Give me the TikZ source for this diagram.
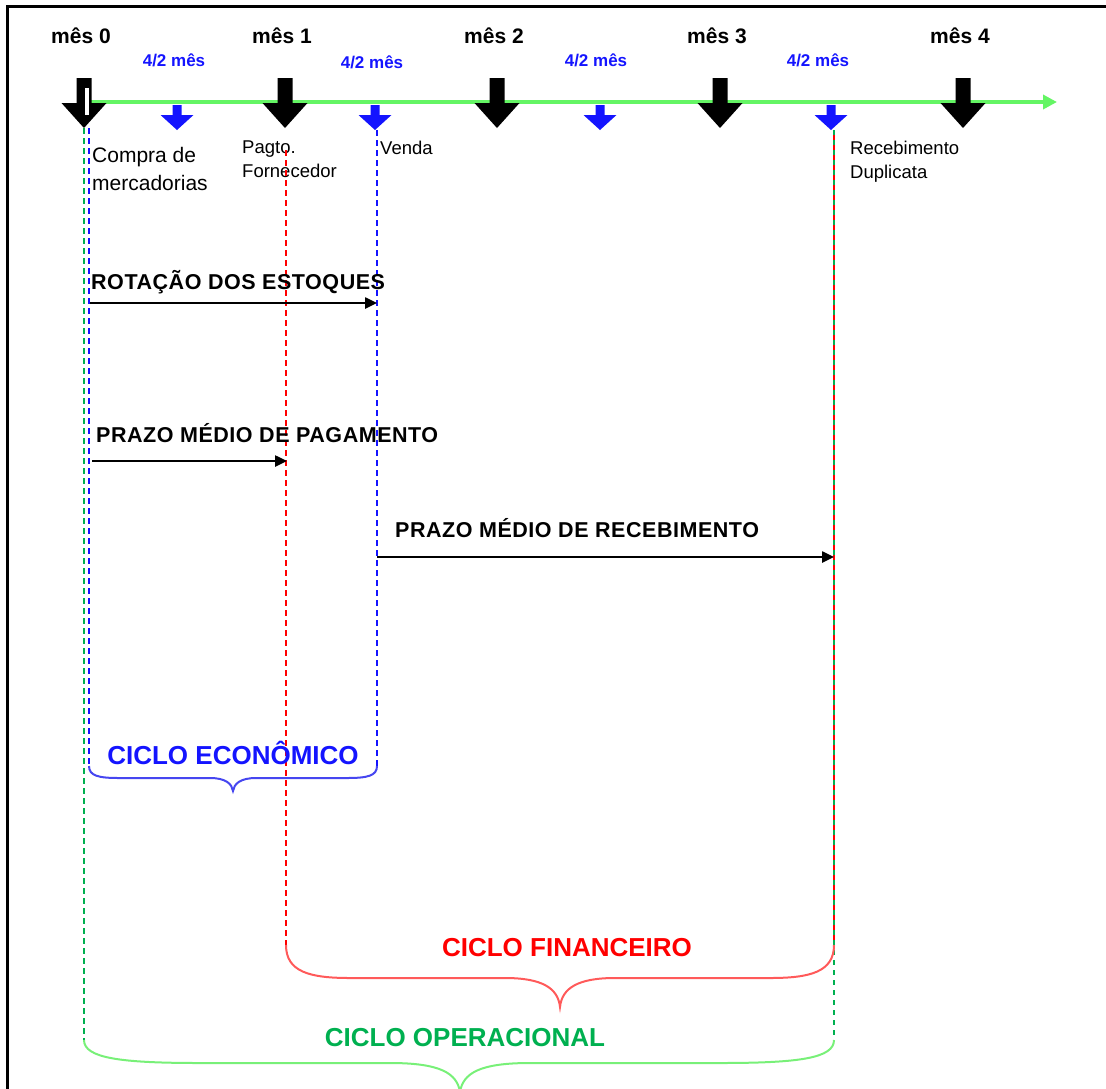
\documentclass[tikz,border=0pt]{standalone}
\usepackage{fontspec}
\setmainfont{Liberation Sans}
\usetikzlibrary{positioning, arrows.meta}
\definecolor{axisgreen}{RGB}{100, 245, 100}
\definecolor{opgreen}{RGB}{0, 176, 80}
\definecolor{ecoblue}{RGB}{20, 20, 255}
\definecolor{finred}{RGB}{255, 0, 0}
\definecolor{lightred}{RGB}{255, 90, 90}
\definecolor{lightgreen}{RGB}{120, 240, 120}
\definecolor{lightblue}{RGB}{70, 70, 240}

\begin{document}
\begin{tikzpicture}[
    x=1pt, y=-1pt,
    >={Triangle[length=12pt, width=11pt]},
    month/.style={font=\fontsize{21}{25}\selectfont\bfseries, inner sep=0pt},
    half/.style={font=\fontsize{17}{20}\selectfont\bfseries, text=ecoblue, inner sep=0pt},
    event/.style={font=\fontsize{21}{28}\selectfont, align=left, anchor=north west, inner sep=0pt},
    smallevent/.style={font=\fontsize{18.5}{24}\selectfont, align=left, anchor=north west, inner sep=0pt},
    period/.style={font=\fontsize{21.5}{26}\selectfont\bfseries\addfontfeature{LetterSpace=2.5},
        anchor=west, inner sep=0pt},
    cycle/.style={font=\fontsize{26}{30}\selectfont\bfseries, inner sep=0pt},
    flow/.style={->, line width=2.5pt},
    guide/.style={dash pattern=on 6pt off 4pt, line width=1.5pt},
    bracket/.style={line width=2pt},
]

\useasboundingbox (0,0) rectangle (1106,1088);

% --- Frame (only top and left edges are visible) ---
\draw[line width=3pt] (7,1100) -- (7,6) -- (1110,6);

% --- Time axis ---
\draw[axisgreen, line width=4pt, -{Triangle[length=14pt, width=14pt]}]
    (90,102) -- (1057,102);

% --- Months (big black arrows) ---
\foreach \i/\x in {0/84, 1/285, 2/497, 3/720, 4/963} {
    \fill ({\x-7.5},78) -- ({\x+7.5},78) -- ({\x+7.5},103) -- ({\x+22.5},103)
        -- (\x,128) -- ({\x-22.5},103) -- ({\x-7.5},103) -- cycle;
    \node[month] (mes\i) at ({\x-3},36) {mês \i};
}
\fill[white] (85,88) rectangle (89,115);

% --- Half months (small blue arrows) ---
\foreach \i/\x/\lx/\ly in {1/177/174/60, 2/375/372/62, 3/600/596/60, 4/831/818/60} {
    \fill[ecoblue] ({\x-4.5},105) -- ({\x+4.5},105) -- ({\x+4.5},115) -- ({\x+16.5},115)
        -- (\x,130) -- ({\x-16.5},115) -- ({\x-4.5},115) -- cycle;
    \node[half] (meio\i) at (\lx,\ly) {4/2 mês};
}

% --- Events ---
\node[event] (compra) at (92,147) {Compra de\\mercadorias};
\node[smallevent] (pagto) at (242,141) {Pagto.\\Fornecedor};
\node[smallevent] (venda) at (380,141) {Venda};
\node[smallevent] (receb) at (850,141) {Recebimento\\Duplicata};

% --- Event guide lines ---
\coordinate (buyG) at (84,128);
\coordinate (buyB) at (89,128);
\coordinate (pay)  at (286,150);
\coordinate (sale) at (377,130);
\coordinate (recv) at (834,130);

\coordinate (ecoL) at (89,766);
\coordinate (ecoR) at (377,766);
\coordinate (finL) at (286,945);
\coordinate (finR) at (834,945);
\coordinate (opL)  at (84,1040);
\coordinate (opR)  at (834,1040);

\draw[guide, opgreen] (buyG) -- (opL);
\draw[guide, ecoblue] (buyB) -- (ecoL);
\draw[guide, finred] (pay) -- (finL);
\draw[guide, ecoblue] (sale) -- (ecoR);
\draw[guide, opgreen, dash pattern=on 5pt off 5pt] (recv) -- (opR);
\draw[guide, finred, dash pattern=on 5pt off 5pt, dash phase=5pt] (recv) -- (finR);

% --- Periods ---
\coordinate (rotA) at (90,303);
\coordinate (rotB) at (377,303);
\coordinate (pmpA) at (92,461);
\coordinate (pmpB) at (287,461);
\coordinate (pmrA) at (377,557);
\coordinate (pmrB) at (834,557);

\node[period] (rot) at (91,282) {ROTAÇÃO DOS ESTOQUES};
\draw[flow] (rotA) -- (rotB);

\node[period] (pmp) at (96,433) {PRAZO MÉDIO DE PAGAMENTO};
\draw[flow] (pmpA) -- (pmpB);

\node[period] (pmr) at (395,528) {PRAZO MÉDIO DE RECEBIMENTO};
\draw[flow] (pmrA) -- (pmrB);

% --- Cycles (braces) ---
\draw[bracket, lightblue] (ecoL) .. controls (89,776) and (99,778) .. (119,778)
    -- (210,778) .. controls (226,778) and (232,784) .. (233,791)
    .. controls (234,784) and (240,778) .. (256,778)
    -- (347,778) .. controls (367,778) and (377,776) .. (ecoR);
\node[cycle, text=ecoblue] (eco) at (233,753) {CICLO ECONÔMICO};

\draw[bracket, lightred] (finL) .. controls (286,972) and (310,978) .. (350,978)
    -- (505,978) .. controls (542,978) and (558,988) .. (560,1007)
    .. controls (562,988) and (578,978) .. (615,978)
    -- (770,978) .. controls (810,978) and (834,972) .. (finR);
\node[cycle, text=finred] (fin) at (567,948) {CICLO FINANCEIRO};

\draw[bracket, lightgreen] (opL) .. controls (84,1058) and (120,1063) .. (200,1063)
    -- (390,1063) .. controls (440,1063) and (457,1073) .. (460,1092)
    .. controls (463,1073) and (480,1063) .. (530,1063)
    -- (720,1063) .. controls (800,1063) and (834,1058) .. (opR);
\node[cycle, text=opgreen] (op) at (465,1038) {CICLO OPERACIONAL};

\end{tikzpicture}
\end{document}
